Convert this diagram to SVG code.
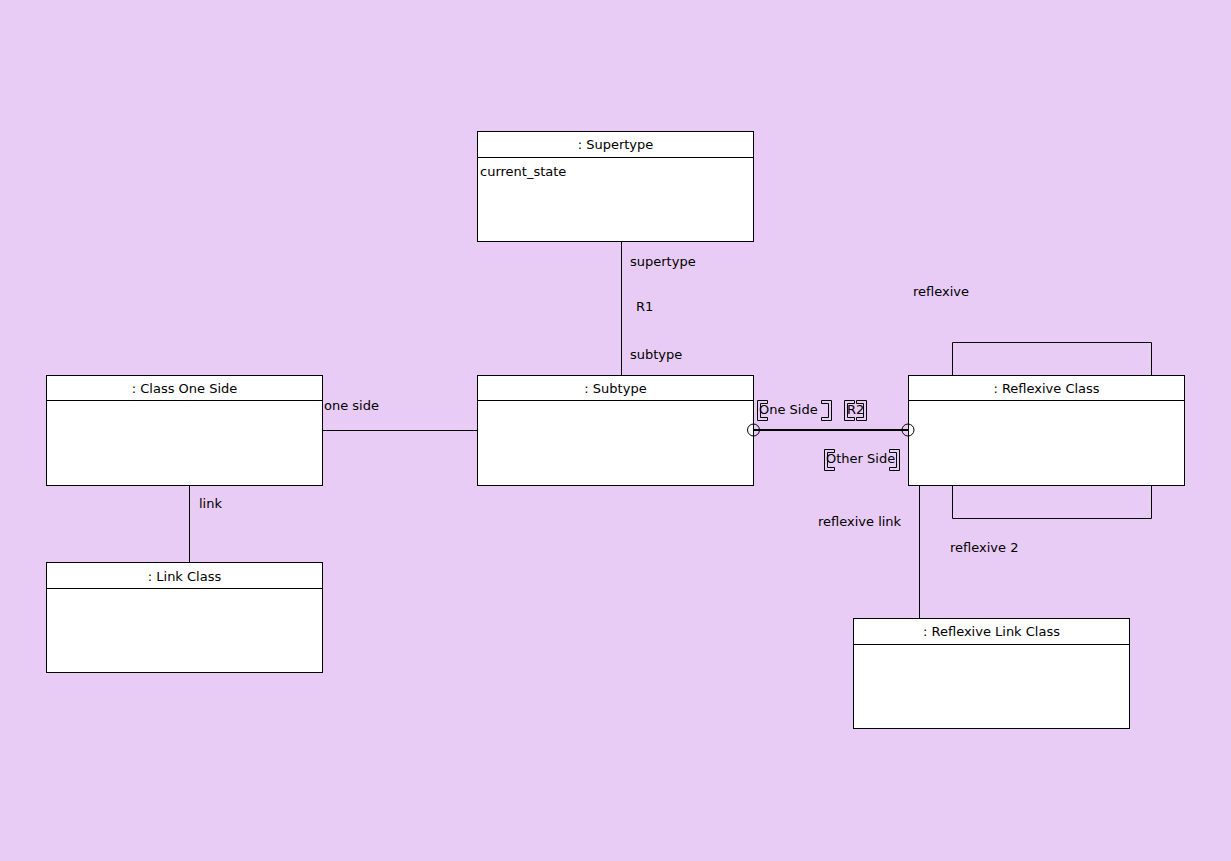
<svg xmlns="http://www.w3.org/2000/svg" width="1231" height="861" viewBox="0 0 1231 861">
<style>
.box{fill:#ffffff;stroke:#000000;stroke-width:1}
.ln{fill:none;stroke:#000000;stroke-width:1}
.t{font-family:"DejaVu Sans",Verdana,sans-serif;font-size:13px;fill:#000000}
.c{text-anchor:middle}
.br{fill:none;stroke:#000000;stroke-width:1}
</style>
<rect x="0" y="0" width="1231" height="861" fill="#e8ccf6"/>
<g id="supertype">
<rect class="box" x="477.5" y="131.5" width="276" height="110"/>
<line class="ln" x1="477.5" y1="157.5" x2="753.5" y2="157.5"/>
<text class="t c" x="615.5" y="149">: Supertype</text>
<text class="t" x="480" y="176">current_state</text>
</g>
<g id="class-one-side">
<rect class="box" x="46.5" y="375.5" width="276" height="110"/>
<line class="ln" x1="46.5" y1="400.5" x2="322.5" y2="400.5"/>
<text class="t c" x="184.5" y="393">: Class One Side</text>
</g>
<g id="subtype">
<rect class="box" x="477.5" y="375.5" width="276" height="110"/>
<line class="ln" x1="477.5" y1="400.5" x2="753.5" y2="400.5"/>
<text class="t c" x="615.5" y="393">: Subtype</text>
</g>
<g id="reflexive-class">
<rect class="box" x="908.5" y="375.5" width="276" height="110"/>
<line class="ln" x1="908.5" y1="400.5" x2="1184.5" y2="400.5"/>
<text class="t c" x="1046.5" y="393">: Reflexive Class</text>
</g>
<g id="link-class">
<rect class="box" x="46.5" y="562.5" width="276" height="110"/>
<line class="ln" x1="46.5" y1="588.5" x2="322.5" y2="588.5"/>
<text class="t c" x="184.5" y="581">: Link Class</text>
</g>
<g id="reflexive-link-class">
<rect class="box" x="853.5" y="618.5" width="276" height="110"/>
<line class="ln" x1="853.5" y1="644.5" x2="1129.5" y2="644.5"/>
<text class="t c" x="991.5" y="636">: Reflexive Link Class</text>
</g>
<g id="connectors">
<line class="ln" x1="621.5" y1="241" x2="621.5" y2="375"/>
<line class="ln" x1="322" y1="430.5" x2="477" y2="430.5"/>
<line class="ln" x1="189.5" y1="485" x2="189.5" y2="562"/>
<polyline class="ln" points="952.5,375 952.5,342.5 1151.5,342.5 1151.5,375"/>
<polyline class="ln" points="952.5,485 952.5,518.5 1151.5,518.5 1151.5,485"/>
<line class="ln" x1="919.5" y1="485" x2="919.5" y2="618"/>
<line x1="753" y1="430" x2="908" y2="430" stroke="#000" stroke-width="2"/>
<circle cx="753.5" cy="430" r="6" class="ln"/>
<circle cx="908" cy="430" r="6" class="ln"/>
<text class="t" x="630" y="266">supertype</text>
<text class="t" x="636" y="311">R1</text>
<text class="t" x="630" y="359">subtype</text>
<text class="t" x="324" y="410">one side</text>
<text class="t" x="199" y="508">link</text>
<text class="t" x="913" y="296">reflexive</text>
<text class="t" x="818" y="526">reflexive link</text>
<text class="t" x="950" y="552">reflexive 2</text>
<text class="t" x="759" y="414">One Side</text>
<polygon class="br" points="757.5,400.5 767.5,400.5 767.5,403.5 760.5,403.5 760.5,417.5 767.5,417.5 767.5,420.5 757.5,420.5"/>
<polygon class="br" points="831.5,400.5 821.5,400.5 821.5,403.5 828.5,403.5 828.5,417.5 821.5,417.5 821.5,420.5 831.5,420.5"/>
<text class="t" x="847" y="414">R2</text>
<polygon class="br" points="844.5,400.5 854.5,400.5 854.5,403.5 847.5,403.5 847.5,417.5 854.5,417.5 854.5,420.5 844.5,420.5"/>
<polygon class="br" points="866.5,400.5 856.5,400.5 856.5,403.5 863.5,403.5 863.5,417.5 856.5,417.5 856.5,420.5 866.5,420.5"/>
<text class="t" x="826" y="463">Other Side</text>
<polygon class="br" points="824.5,449.5 834.5,449.5 834.5,452.5 827.5,452.5 827.5,467.5 834.5,467.5 834.5,470.5 824.5,470.5"/>
<polygon class="br" points="899.5,449.5 889.5,449.5 889.5,452.5 896.5,452.5 896.5,467.5 889.5,467.5 889.5,470.5 899.5,470.5"/>
</g>
</svg>
